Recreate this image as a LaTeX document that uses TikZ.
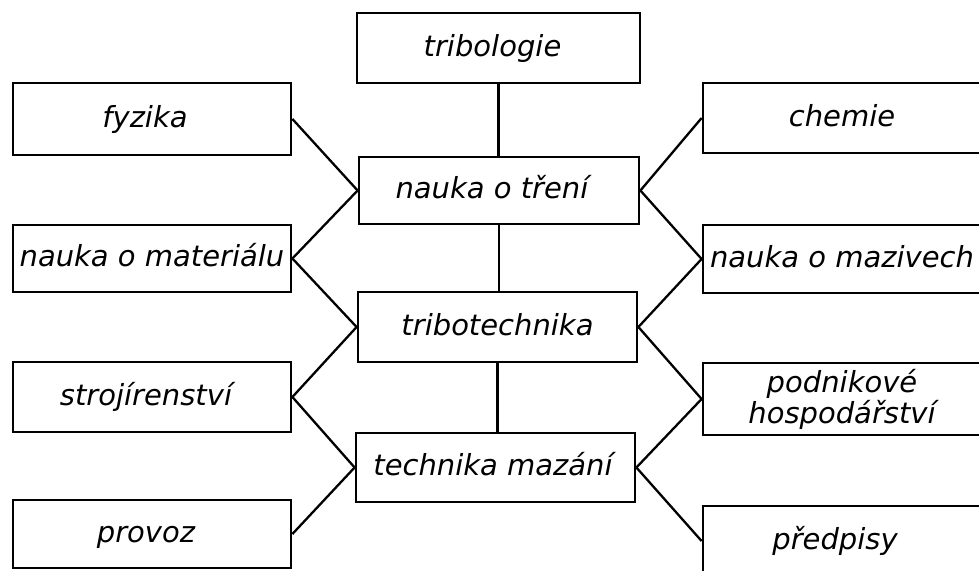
\documentclass[tikz,border=0pt]{standalone}
\usepackage{fontspec}
\setmainfont{DejaVu Sans}
\begin{document}
\begin{tikzpicture}[x=1pt,y=-1pt,
  box/.style={draw, line width=2.8pt, inner sep=0pt,
    text height=22pt, text depth=6pt,
    font=\fontsize{29}{26}\selectfont\itshape},
  lsh/.style={execute at end node={\hspace*{#1}}},
  link/.style={line width=2.3pt}]
\useasboundingbox (0,0) rectangle (979,570);
% centre column
\node[box, lsh=12pt, minimum width=283pt, minimum height=70pt] (tribo) at (498.5,48) {tribologie};
\node[box, lsh=14pt, minimum width=280pt, minimum height=67pt] (treni) at (499,190.5) {nauka o tření};
\node[box, minimum width=279pt, minimum height=70pt] (tech) at (497.5,327) {tribotechnika};
\node[box, lsh=5pt, minimum width=279pt, minimum height=69pt] (maz) at (495.5,467.5) {technika mazání};
% left column
\node[box, lsh=14pt, minimum width=278pt, minimum height=72pt] (fyz) at (152,119) {fyzika};
\node[box, minimum width=278pt, minimum height=67pt] (mat) at (152,258.5) {nauka o materiálu};
\node[box, lsh=12pt, minimum width=278pt, minimum height=70pt] (stroj) at (152,397) {strojírenství};
\node[box, lsh=12pt, minimum width=278pt, minimum height=68pt] (prov) at (152,534) {provoz};
% right column
\node[box, minimum width=278pt, minimum height=70pt] (chem) at (842,118) {chemie};
\node[box, minimum width=278pt, minimum height=68pt] (mazi) at (842,259) {nauka o mazivech};
\node[box, align=center, minimum width=278pt, minimum height=72pt, text height=54pt] (podn) at (842,399) {podnikové\\hospodářství};
\node[box, lsh=14pt, minimum width=278pt, minimum height=70pt] (pred) at (842,541) {předpisy};
% vertical links
\draw[link] (tribo.south) -- (tribo.south |- treni.north);
\draw[link] (treni.south) -- (treni.south |- tech.north);
\draw[link] (tech.south) -- (tech.south |- maz.north);
% left links
\draw[link] (fyz.east) -- (treni.west);
\draw[link] (mat.east) -- (treni.west);
\draw[link] (mat.east) -- (tech.west);
\draw[link] (stroj.east) -- (tech.west);
\draw[link] (stroj.east) -- (maz.west);
\draw[link] (prov.east) -- (maz.west);
% right links
\draw[link] (treni.east) -- (chem.west);
\draw[link] (treni.east) -- (mazi.west);
\draw[link] (tech.east) -- (mazi.west);
\draw[link] (tech.east) -- (podn.west);
\draw[link] (maz.east) -- (podn.west);
\draw[link] (maz.east) -- (pred.west);
\end{tikzpicture}
\end{document}
